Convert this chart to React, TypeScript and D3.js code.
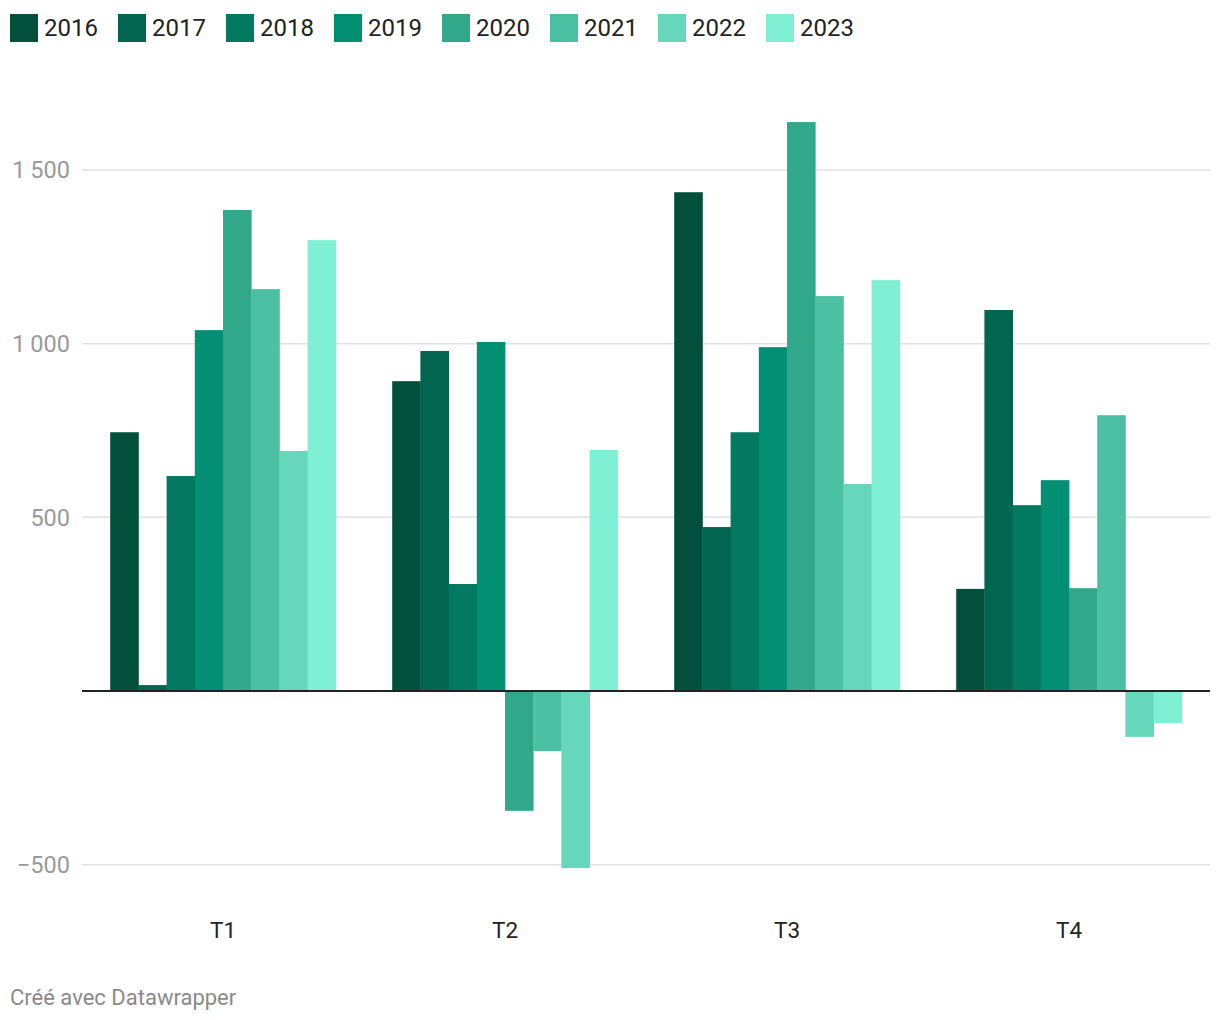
import React, { useEffect, useRef } from 'react';
import * as d3 from 'd3';

const quarters = ['T1', 'T2', 'T3', 'T4'];
const years = ['2016', '2017', '2018', '2019', '2020', '2021', '2022', '2023'];
const colors = ['#024f3b', '#01654f', '#027960', '#038f73', '#32a88b', '#4cc0a3', '#66d7ba', '#7ff0d3'];

// values per year, one per quarter (T1..T4)
const v2016 = [745, 892, 1436, 294];
const v2017 = [17, 979, 472, 1097];
const v2018 = [619, 308, 745, 535];
const v2019 = [1039, 1005, 990, 607];
const v2020 = [1385, -345, 1638, 296];
const v2021 = [1157, -173, 1137, 794];
const v2022 = [691, -510, 596, -132];
const v2023 = [1298, 694, 1183, -92];
const series = [v2016, v2017, v2018, v2019, v2020, v2021, v2022, v2023];

const yTicks = [-500, 500, 1000, 1500];

const W = 1220;
const H = 1020;

const App = () => {
  const ref = useRef<SVGSVGElement>(null);

  useEffect(() => {
    const svg = d3.select(ref.current);
    svg.selectAll('*').remove();

    const left = 82;
    const right = 1210;

    const x0 = d3.scaleBand().domain(quarters).range([left, right]).paddingInner(0.2).paddingOuter(0.1);
    const x1 = d3.scaleBand().domain(years).range([0, x0.bandwidth()]);
    const y = d3.scaleLinear().domain([0, 1500]).range([691, 170]);

    const fmt = (d: number) => {
      const s = Math.abs(d).toString().replace(/\B(?=(\d{3})+(?!\d))/g, '\u2009');
      return d < 0 ? '\u2212' + s : s;
    };

    // grid
    const grid = svg.append('g');
    grid.selectAll('line')
      .data(yTicks)
      .enter()
      .append('line')
      .attr('x1', left)
      .attr('x2', right)
      .attr('y1', (d) => y(d))
      .attr('y2', (d) => y(d))
      .attr('stroke', '#e2e2e2')
      .attr('stroke-width', 1.5);

    grid.selectAll('text')
      .data(yTicks)
      .enter()
      .append('text')
      .attr('x', 70)
      .attr('y', (d) => y(d))
      .attr('dy', '0.35em')
      .attr('text-anchor', 'end')
      .attr('fill', '#9a9a9a')
      .style('font-size', '23.5px')
      .text((d) => fmt(d));

    // bars
    const groups = svg.append('g')
      .selectAll('g')
      .data(quarters)
      .enter()
      .append('g')
      .attr('transform', (d) => `translate(${x0(d)},0)`);

    groups.selectAll('rect')
      .data((q, qi) => years.map((yr, i) => ({ yr, i, v: series[i][qi] })))
      .enter()
      .append('rect')
      .attr('x', (d) => x1(d.yr) || 0)
      .attr('width', x1.bandwidth() + 0.4)
      .attr('y', (d) => Math.min(y(d.v), y(0)))
      .attr('height', (d) => Math.abs(y(d.v) - y(0)))
      .attr('fill', (d) => colors[d.i]);

    // zero line
    svg.append('line')
      .attr('x1', left)
      .attr('x2', right)
      .attr('y1', y(0))
      .attr('y2', y(0))
      .attr('stroke', '#222')
      .attr('stroke-width', 2);

    // x labels
    svg.append('g')
      .selectAll('text')
      .data(quarters)
      .enter()
      .append('text')
      .attr('x', (d) => (x0(d) || 0) + x0.bandwidth() / 2)
      .attr('y', 930)
      .attr('dy', '0.35em')
      .attr('text-anchor', 'middle')
      .attr('fill', '#222')
      .style('font-size', '22.5px')
      .text((d) => d);

    // legend
    const legend = svg.append('g')
      .selectAll('g')
      .data(years)
      .enter()
      .append('g')
      .attr('transform', (d, i) => `translate(${10 + i * 108},14)`);
    legend.append('rect')
      .attr('width', 28)
      .attr('height', 28)
      .attr('fill', (d, i) => colors[i]);
    legend.append('text')
      .attr('x', 34)
      .attr('y', 14)
      .attr('dy', '0.35em')
      .attr('fill', '#222')
      .style('font-size', '24px')
      .text((d) => d);

    // footer
    svg.append('text')
      .attr('x', 10)
      .attr('y', 997)
      .attr('dy', '0.35em')
      .attr('fill', '#8a8a8a')
      .style('font-size', '22px')
      .text('Créé avec Datawrapper');
  });

  return (
    <svg
      ref={ref}
      width={W}
      height={H}
      style={{ position: 'absolute', left: 0, top: 0, fontFamily: 'Roboto, sans-serif', background: '#fff' }}
    />
  );
};

export default App;
